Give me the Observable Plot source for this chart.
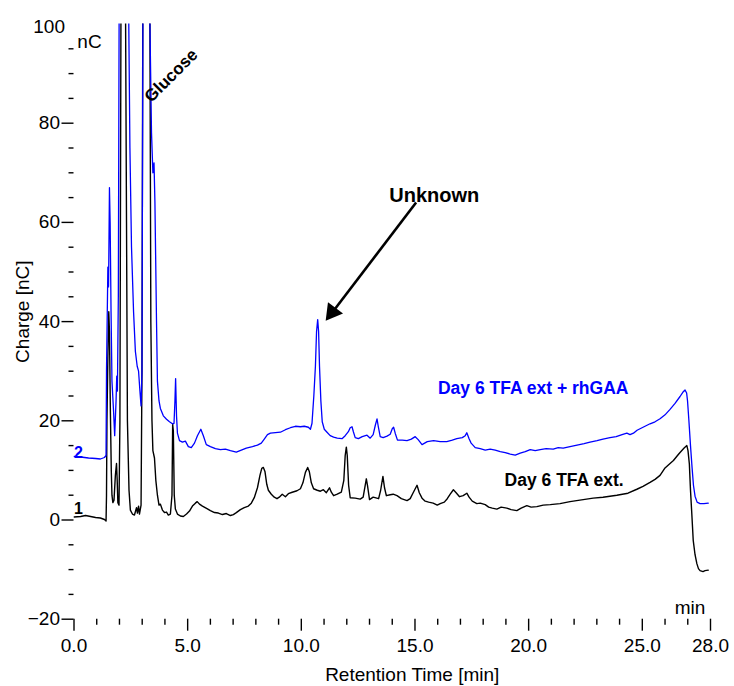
<!DOCTYPE html>
<html>
<head>
<meta charset="utf-8">
<script src="https://cdn.jsdelivr.net/npm/d3@7"></script>
<script src="https://cdn.jsdelivr.net/npm/@observablehq/plot@0.6"></script>
<style>
  html, body { margin: 0; padding: 0; background: #fff; }
  #chart { width: 734px; height: 686px; }
</style>
</head>
<body>
<div id="chart"></div>
<script>
// Trace 2: Day 6 TFA ext + rhGAA (blue) — retention time [min], charge [nC]
const blueTime = [0.00,0.29,0.64,0.95,1.16,1.34,1.41,1.43,1.49,1.52,1.56,1.59,1.63,1.67,1.74,1.79,1.85,1.88,1.91,1.95,1.99,2.04,2.22,2.35,2.41,2.46,2.53,2.62,2.70,2.78,2.84,2.90,2.95,2.99,3.03,3.10,3.23,3.34,3.41,3.47,3.52,3.56,3.63,3.67,3.74,3.80,3.93,4.07,4.20,4.33,4.40,4.44,4.47,4.51,4.55,4.64,4.77,4.90,5.03,5.16,5.30,5.43,5.58,5.69,5.82,6.00,6.22,6.44,6.66,6.88,7.14,7.36,7.58,7.85,8.07,8.24,8.37,8.51,8.64,8.86,9.08,9.30,9.52,9.74,9.96,10.13,10.31,10.40,10.47,10.55,10.62,10.67,10.72,10.76,10.80,10.86,10.92,11.01,11.13,11.27,11.42,11.58,11.79,11.93,12.07,12.15,12.23,12.29,12.37,12.51,12.68,12.89,13.03,13.16,13.25,13.33,13.38,13.47,13.60,13.77,13.91,14.00,14.06,14.13,14.23,14.44,14.65,14.84,15.01,15.14,15.31,15.54,15.82,16.11,16.40,16.64,16.84,17.08,17.21,17.28,17.38,17.47,17.65,17.87,18.09,18.31,18.53,18.75,18.97,19.19,19.41,19.63,19.85,20.07,20.29,20.51,20.77,21.08,21.30,21.52,21.82,22.13,22.44,22.70,23.01,23.27,23.58,23.85,24.11,24.32,24.46,24.61,24.77,24.90,25.12,25.34,25.56,25.78,26.00,26.22,26.44,26.66,26.79,26.88,26.95,26.99,27.05,27.12,27.19,27.25,27.32,27.41,27.54,27.71,27.90];
const blueCharge = [12.8,12.7,12.5,12.4,12.3,12.6,13.0,30,51,47,67,60,42,28,22,17,24,29,26,45,110,250,200,140,100,75,55,42,34,31,30,26,23,30,100,260,200,100,78,70,72,64,40,28,24,22.5,21,20.3,19.8,19.4,19.5,24,28.5,21,17.5,16,15.7,15.9,14.8,14.6,15.5,17,18.3,17,15.2,14.8,14.4,14.2,14.3,14.0,13.7,14.1,14.5,14.8,15.1,15.5,16.3,17.2,17.5,17.6,17.7,18.2,18.6,18.9,18.8,18.9,18.7,18.3,19.5,25,31,38,40.4,38,31,24,19.8,18.3,17.7,17.0,16.7,16.5,16.4,17.0,17.8,18.6,18.8,17.8,16.6,16.4,16.8,17.1,16.5,17.2,19.0,20.4,19.0,16.8,16.6,16.9,17.3,18.4,18.7,17.5,16.1,16.1,16.0,16.3,16.8,16.2,15.2,15.8,16.0,15.8,15.8,16.1,16.4,16.6,17.0,17.6,16.4,15.5,14.6,14.4,14.1,14.3,14.1,13.8,13.6,13.3,13.1,13.5,13.8,14.2,14.0,14.2,14.4,14.3,14.6,14.5,14.8,15.1,15.4,15.7,16.0,16.3,16.6,16.8,17.2,17.5,17.2,17.5,18.1,18.4,18.9,19.4,19.8,20.4,21.2,22.3,23.5,24.9,25.8,26.2,25.6,24.0,20.0,15.0,10.5,7.0,4.8,3.6,3.3,3.3,3.4];

// Trace 1: Day 6 TFA ext. (black)
const blackTime = [0.00,0.29,0.51,0.73,0.95,1.16,1.34,1.41,1.43,1.45,1.49,1.53,1.56,1.60,1.64,1.67,1.71,1.76,1.82,1.87,1.90,1.93,1.98,2.02,2.07,2.13,2.20,2.26,2.31,2.35,2.42,2.48,2.57,2.66,2.75,2.79,2.84,2.88,2.95,2.99,3.03,3.14,3.25,3.34,3.38,3.43,3.47,3.54,3.60,3.67,3.74,3.80,3.89,3.98,4.07,4.15,4.24,4.31,4.34,4.37,4.41,4.46,4.55,4.68,4.81,4.95,5.08,5.21,5.34,5.42,5.52,5.65,5.85,6.00,6.18,6.35,6.53,6.70,6.88,7.01,7.14,7.32,7.49,7.67,7.80,7.93,8.07,8.18,8.26,8.33,8.40,8.48,8.55,8.68,8.81,8.93,9.03,9.16,9.30,9.43,9.60,9.81,9.96,10.07,10.18,10.28,10.35,10.44,10.54,10.70,10.84,10.97,11.10,11.24,11.32,11.42,11.58,11.76,11.87,11.93,11.98,12.02,12.08,12.15,12.37,12.59,12.72,12.81,12.86,12.91,13.00,13.16,13.40,13.49,13.59,13.66,13.74,13.91,14.04,14.21,14.40,14.65,14.79,14.92,15.09,15.19,15.31,15.45,15.60,15.80,15.98,16.11,16.29,16.42,16.55,16.69,16.81,16.96,17.12,17.28,17.38,17.52,17.72,17.87,18.09,18.24,18.40,18.60,18.79,19.04,19.23,19.48,19.67,19.92,20.11,20.36,20.64,20.95,21.38,21.82,22.40,22.84,23.27,23.88,24.37,24.76,25.03,25.34,25.56,25.78,26.00,26.22,26.37,26.53,26.66,26.84,26.96,27.01,27.07,27.12,27.17,27.21,27.24,27.32,27.40,27.47,27.54,27.67,27.76,27.90];
const blackCharge = [0.6,0.7,0.9,0.7,0.5,0.4,0.1,-0.2,5,20,33,42,38,22,10,5,3.5,4,9,11.4,8,3.5,3,20,110,300,250,110,60,20,6,2,1.2,1.0,2.5,1.4,2.8,1.2,3,30,110,300,200,100,40,20,14,12.5,8,5,3,3.2,2.0,1.5,1.6,1.0,1.2,5,19.3,18,5,2.2,1.2,0.8,0.7,1.2,1.8,2.8,3.4,3.7,3.2,2.8,2.3,1.9,1.5,1.4,1.1,1.3,0.9,1.1,1.5,2.1,2.5,2.8,3.4,4.5,6.5,9.0,10.4,10.6,9.8,7.2,6.0,5.2,4.6,4.3,4.6,5.2,4.7,5.3,5.6,5.9,6.3,7.5,9.6,10.6,9.8,7.5,6.3,6.0,5.8,6.1,5.5,6.5,5.6,4.9,5.2,5.6,8.0,13.0,14.7,13.0,7.0,4.5,4.4,4.2,4.6,7.0,8.3,7.0,4.1,4.6,4.3,6.0,8.8,6.5,4.9,5.1,5.2,4.9,4.3,3.9,4.3,5.5,7.0,5.5,4.4,3.8,3.6,3.4,3.0,3.3,3.6,4.3,5.2,6.1,5.5,4.7,4.9,5.4,4.6,3.8,3.3,3.4,3.1,2.6,2.4,2.2,2.6,2.4,2.1,1.9,2.4,2.9,2.6,2.7,3.0,3.1,3.3,3.7,4.1,4.4,4.6,5.0,5.4,6.2,6.8,7.6,8.2,9.0,10.5,11.4,12.0,12.9,13.6,14.5,15.0,14.0,11.3,6.0,1.9,-1.5,-4.1,-7.0,-8.8,-9.8,-10.2,-10.4,-10.2,-10.1];

// Axis ticks
const yMajorTicks = [-20, 0, 20, 40, 60, 80];
const yTopTick = [100];
const yMinorTicks = [-15, -10, -5, 5, 10, 15, 25, 30, 35, 45, 50, 55, 65, 70, 75, 85, 90, 95];
const xMajorTicks = [0, 5, 10, 15, 20, 25, 28];
const xMinorTicks = [1, 2, 3, 4, 6, 7, 8, 9, 11, 12, 13, 14, 16, 17, 18, 19, 21, 22, 23, 24, 26, 27];

// Annotations (placed in data coordinates)
const traceLabels = [
  {t: 0.2, v: 13.6, text: "2", color: "#0000ff"},
  {t: 0.2, v: 2.3, text: "1", color: "#000000"}
];
const seriesLabels = [
  {t: 20.2, v: 26.5, text: "Day 6 TFA ext + rhGAA", color: "#0000ff"},
  {t: 21.56, v: 7.9, text: "Day 6 TFA ext.", color: "#000000"}
];
const peakLabels = [
  {t: 4.27, v: 89.6, text: "Glucose", rotate: -45, size: 17},
  {t: 15.85, v: 65.4, text: "Unknown", rotate: 0, size: 20}
];
const arrowLine = [{t1: 15.05, v1: 64.0, t2: 11.42, v2: 42.2}];
const arrowHead = [{t: 11.36, v: 41.9, angle: 217}];
const unitLabels = [
  {t: 0.68, v: 96.3, text: "nC"},
  {t: 27.1, v: -17.8, text: "min"}
];
const axisTitles = [
  {t: 14.88, v: -31.3, text: "Retention Time [min]", rotate: 0},
  {t: -2.26, v: 42.0, text: "Charge [nC]", rotate: -90}
];

const blue = blueTime.map((t, i) => ({t, v: blueCharge[i]}));
const black = blackTime.map((t, i) => ({t, v: blackCharge[i]}));
const fmt = d3.format(".1f");
const FONT = "Liberation Sans, Arial, Helvetica, sans-serif";

const chart = Plot.plot({
  width: 734,
  height: 686,
  marginLeft: 73.5,
  marginRight: 24,
  marginTop: 23.5,
  marginBottom: 67.3,
  style: {fontFamily: FONT, fontSize: "19px", color: "#000", background: "#fff", overflow: "visible"},
  x: {domain: [0, 28], label: null},
  y: {domain: [-20, 100], label: null},
  marks: [
    Plot.axisY(yMajorTicks, {anchor: "left", tickSize: 12, tickPadding: 2, label: null, fontSize: 19, stroke: "#000", strokeWidth: 1.4}),
    Plot.axisY(yTopTick, {anchor: "left", tickSize: 0, tickPadding: 9, dy: 3, label: null, fontSize: 19}),
    Plot.axisY(yMinorTicks, {anchor: "left", tickSize: 5, tickPadding: 0, tickFormat: () => "", label: null, stroke: "#000", strokeWidth: 1.4}),
    Plot.axisX(xMajorTicks, {anchor: "bottom", tickSize: 12, tickPadding: 7, tickFormat: fmt, label: null, fontSize: 19, stroke: "#000", strokeWidth: 1.4}),
    Plot.axisX(xMinorTicks, {anchor: "bottom", tickSize: 6, tickPadding: 0, tickFormat: () => "", label: null, stroke: "#000", strokeWidth: 1.4}),
    Plot.text(axisTitles, {x: "t", y: "v", text: "text", rotate: "rotate", fontSize: 19, fill: "#000"}),
    Plot.line(black, {x: "t", y: "v", stroke: "#000", strokeWidth: 1.4, clip: true}),
    Plot.line(blue, {x: "t", y: "v", stroke: "#0000ff", strokeWidth: 1.3, clip: true}),
    Plot.text(traceLabels, {x: "t", y: "v", text: "text", fill: "color", fontWeight: "bold", fontSize: 16}),
    Plot.text(seriesLabels, {x: "t", y: "v", text: "text", fill: "color", fontWeight: "bold", fontSize: 17.5}),
    Plot.text(peakLabels, {x: "t", y: "v", text: "text", rotate: "rotate", fontSize: "size", fontWeight: "bold", fill: "#000"}),
    Plot.link(arrowLine, {x1: "t1", y1: "v1", x2: "t2", y2: "v2", stroke: "#000", strokeWidth: 2.6}),
    Plot.dot(arrowHead, {x: "t", y: "v", symbol: "triangle", rotate: "angle", r: 7, fill: "#000", stroke: "none"}),
    Plot.text(unitLabels, {x: "t", y: "v", text: "text", fontSize: 19, fill: "#000"})
  ]
});
document.getElementById("chart").appendChild(chart);
</script>
</body>
</html>
